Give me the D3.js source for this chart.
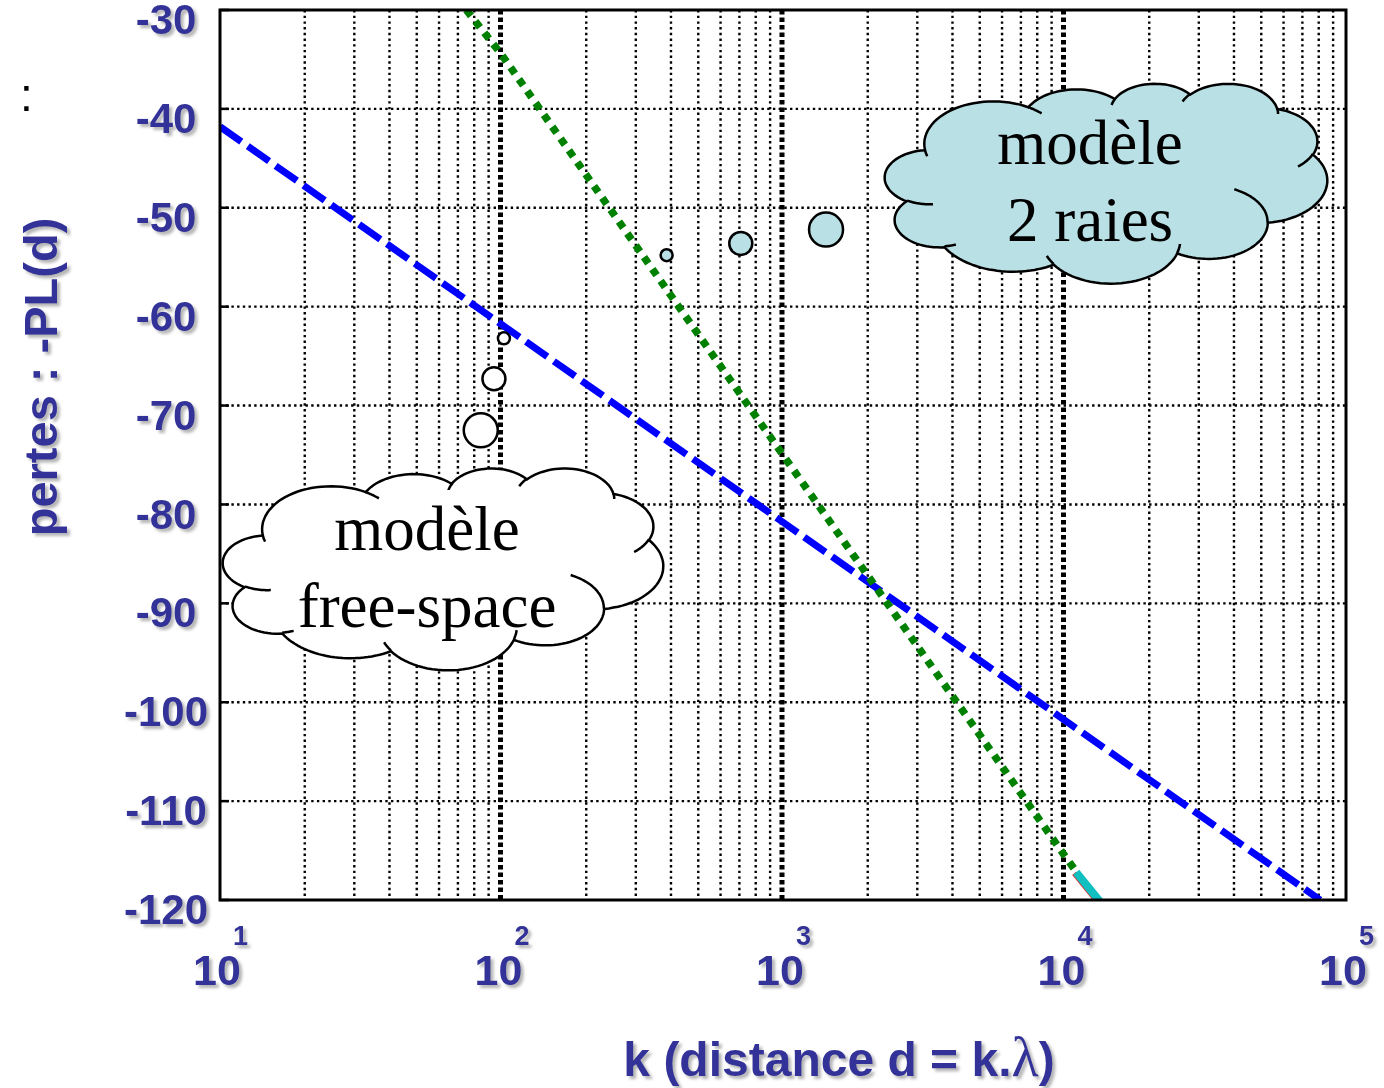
<!DOCTYPE html>
<html>
<head>
<meta charset="utf-8">
<script src="https://cdn.jsdelivr.net/npm/d3@7"></script>
<style>
  html, body { margin: 0; padding: 0; background: #fff; }
  svg { display: block; }
</style>
</head>
<body>
<div id="chart"></div>
<script>
// path loss vs distance, free-space model against the 2-ray model

// axis ticks
const xDecades = [10, 100, 1000, 10000, 100000];
const xExponents = ["1", "2", "3", "4", "5"];
const yTicks = [-30, -40, -50, -60, -70, -80, -90, -100, -110, -120];

// free-space model (blue dashed)  k, dB
const freeK = [10, 100, 1000, 10000, 81000];
const freeDb = [-41.8, -61.8, -81.8, -101.8, -120];

// 2-ray model (green dotted)
const twoRayK = [75, 100, 1000, 10000, 10800];
const twoRayDb = [-30, -34.5, -75, -115.5, -116.8];

// tail of the exact curves at the bottom edge
const tailK = [11000, 13400];
const tailDb = [-117.2, -120.2];

// thought-bubble trail circles
const bubbleFreeK = [84.4, 94, 102];
const bubbleFreeDb = [-72.5, -67.3, -63.2];
const bubbleRaysK = [386, 708, 1422];
const bubbleRaysDb = [-54.8, -53.6, -52.2];
const bubbleR = [17, 11.5, 6];
const bubbleRaysR = [6, 11.5, 17];

// clouds: box corners in data space and their text
const cloudK = [[2303, 85700], [10.25, 375]];
const cloudDb = [[-37.4, -57.6], [-76.3, -96.7]];
const cloudLines = [["modèle", "2 raies"], ["modèle", "free-space"]];
const cloudFill = ["#b9e0e4", "#ffffff"];

const W = 1384, H = 1088;
const blue = "#333399";

const svg = d3.select("#chart").append("svg")
    .attr("width", W).attr("height", H);

const defs = svg.append("defs");
const shadow = defs.append("filter").attr("id", "shadow")
    .attr("x", "-20%").attr("y", "-20%").attr("width", "140%").attr("height", "140%");
shadow.append("feDropShadow")
    .attr("dx", 3).attr("dy", 3).attr("stdDeviation", 1.6)
    .attr("flood-color", "#777").attr("flood-opacity", 0.55);

defs.append("clipPath").attr("id", "plotclip")
  .append("rect").attr("x", 220).attr("y", 10).attr("width", 1126).attr("height", 890);

const x = d3.scaleLog().domain([10, 1e5]).range([220, 1346]);
const y = d3.scaleLinear().domain([-120, -30]).range([900, 10]);

// grid
const grid = svg.append("g");
const minor = x.ticks().filter(v => xDecades.indexOf(v) < 0);
grid.selectAll(".vminor").data(minor).enter().append("line")
    .attr("x1", d => x(d)).attr("x2", d => x(d))
    .attr("y1", y(-30)).attr("y2", y(-120))
    .attr("stroke", "#000").attr("stroke-width", 2.4)
    .attr("stroke-dasharray", "2.4,3.3");

grid.selectAll(".hgrid").data(yTicks.slice(1, -1)).enter().append("line")
    .attr("x1", x(10)).attr("x2", x(1e5))
    .attr("y1", d => y(d)).attr("y2", d => y(d))
    .attr("stroke", "#000").attr("stroke-width", 2.4)
    .attr("stroke-dasharray", "2.4,3.3");

grid.selectAll(".vmajor").data(xDecades.slice(1, -1)).enter().append("line")
    .attr("x1", d => x(d) - 1).attr("x2", d => x(d) - 1)
    .attr("y1", y(-30)).attr("y2", y(-120))
    .attr("stroke", "#000").attr("stroke-width", 5)
    .attr("stroke-dasharray", "4.5,3");

// small inner ticks on the left axis
grid.selectAll(".ytick").data(yTicks).enter().append("line")
    .attr("x1", x(10)).attr("x2", x(10) + 9)
    .attr("y1", d => y(d)).attr("y2", d => y(d))
    .attr("stroke", "#000").attr("stroke-width", 2.5);

// curves
const line = d3.line().x(d => x(d[0])).y(d => y(d[1]));
const plot = svg.append("g").attr("clip-path", "url(#plotclip)");

plot.append("path")
    .datum(freeK.map((k, i) => [k, freeDb[i]]))
    .attr("d", line).attr("fill", "none")
    .attr("stroke", "#0000ff").attr("stroke-width", 7)
    .attr("stroke-dasharray", "26,8");

plot.append("path")
    .datum(twoRayK.map((k, i) => [k, twoRayDb[i]]))
    .attr("d", line).attr("fill", "none")
    .attr("stroke", "#008000").attr("stroke-width", 7.5)
    .attr("stroke-dasharray", "7.5,7");

const tail = tailK.map((k, i) => [k, tailDb[i]]);
plot.append("path").datum(tail).attr("d", line)
    .attr("transform", "translate(-2,1)")
    .attr("fill", "none").attr("stroke", "#e02020").attr("stroke-width", 5);
plot.append("path").datum(tail).attr("d", line)
    .attr("fill", "none").attr("stroke", "#10c0c0").attr("stroke-width", 8);

// bubble trails
svg.append("g").selectAll("circle").data(bubbleFreeK).enter().append("circle")
    .attr("cx", d => x(d)).attr("cy", (d, i) => y(bubbleFreeDb[i]))
    .attr("r", (d, i) => bubbleR[i])
    .attr("fill", "#fff").attr("stroke", "#000").attr("stroke-width", 2.5);

svg.append("g").selectAll("circle").data(bubbleRaysK).enter().append("circle")
    .attr("cx", d => x(d)).attr("cy", (d, i) => y(bubbleRaysDb[i]))
    .attr("r", (d, i) => bubbleRaysR[i])
    .attr("fill", cloudFill[0]).attr("stroke", "#000").attr("stroke-width", 2.5);

// cloud shape (office preset geometry, 43200 units box)
const cloudStart = [3900, 14370];
const cloudArcs = [
  [6753, 9190, -11429249, 7426832], [5333, 7267, -8646143, 5396714],
  [4365, 5945, -8748475, 5983381], [4857, 6595, -7859164, 7034504],
  [5333, 7273, -4722533, 6541615], [6775, 9220, -2776035, 7816140],
  [5785, 7867, 37501, 6842000], [6752, 9215, 1347096, 6910353],
  [7720, 10543, 3974558, 4542661], [4360, 5918, -16496525, 8804134],
  [4345, 5945, -14809710, 9151131]
];
const cloudInner = [
  [4693, 26177, 4345, 5945, 5204520, 1585770],
  [6928, 34899, 4360, 5918, 4416628, 686848],
  [16478, 39090, 6752, 9215, 8257449, 844866],
  [28827, 34751, 6752, 9215, 387196, 959901],
  [34129, 22954, 5785, 7867, -4217541, 4255042],
  [41798, 15354, 5333, 7273, 1819082, 1665090],
  [38324, 5426, 4857, 6595, -824660, 891534],
  [29078, 3952, 4857, 6595, -8950887, 1091722],
  [22141, 4720, 4365, 5945, -9809656, 1061181],
  [14000, 5192, 6753, 9190, -4002417, 739161],
  [4127, 15789, 6753, 9190, 9459261, 711490]
];

function arcTo(pt, wR, hR, st, sw, out) {
  const a0 = st / 60000 * Math.PI / 180, s = sw / 60000 * Math.PI / 180;
  const t0 = Math.atan2(wR * Math.sin(a0), hR * Math.cos(a0));
  const a1 = a0 + s;
  let t1 = Math.atan2(wR * Math.sin(a1), hR * Math.cos(a1));
  while (t1 - t0 - s > Math.PI) t1 -= 2 * Math.PI;
  while (t1 - t0 - s < -Math.PI) t1 += 2 * Math.PI;
  const cx = pt[0] - wR * Math.cos(t0), cy = pt[1] - hR * Math.sin(t0);
  for (let i = 1; i <= 30; i++) {
    const t = t0 + (t1 - t0) * i / 30;
    out.push([cx + wR * Math.cos(t), cy + hR * Math.sin(t)]);
  }
  return out[out.length - 1];
}

function cloudPaths(x0, y0, w, h) {
  const sx = v => x0 + v * w / 43200, sy = v => y0 + v * h / 43200;
  const toD = pts => "M" + pts.map(p => sx(p[0]).toFixed(1) + "," + sy(p[1]).toFixed(1)).join("L");
  let pts = [cloudStart], cur = cloudStart;
  cloudArcs.forEach(a => { cur = arcTo(cur, a[0], a[1], a[2], a[3], pts); });
  const outline = toD(pts) + "Z";
  const inner = cloudInner.map(a => {
    const p = [[a[0], a[1]]];
    arcTo(p[0], a[2], a[3], a[4], a[5], p);
    return toD(p);
  }).join("");
  return [outline, inner];
}

cloudK.forEach((ks, i) => {
  const x0 = x(ks[0]), x1 = x(ks[1]);
  const y0 = y(cloudDb[i][0]), y1 = y(cloudDb[i][1]);
  const p = cloudPaths(x0, y0, x1 - x0, y1 - y0);
  const g = svg.append("g");
  g.append("path").attr("d", p[0])
      .attr("fill", cloudFill[i]).attr("stroke", "#000").attr("stroke-width", 2.5);
  g.append("path").attr("d", p[1])
      .attr("fill", "none").attr("stroke", "#000").attr("stroke-width", 2.5);
  const cx = (x0 + x1) / 2 - 16, cy = (y0 + y1) / 2;
  g.selectAll("text").data(cloudLines[i]).enter().append("text")
      .attr("x", cx).attr("y", (d, j) => cy - 19 + j * 77)
      .attr("text-anchor", "middle")
      .attr("font-family", "'Liberation Serif', 'Times New Roman', serif")
      .attr("font-size", 63).attr("fill", "#000")
      .text(d => d);
});

// plot frame
svg.append("rect")
    .attr("x", x(10)).attr("y", y(-30))
    .attr("width", x(1e5) - x(10)).attr("height", y(-120) - y(-30))
    .attr("fill", "none").attr("stroke", "#000").attr("stroke-width", 3);

// tick labels
const labels = svg.append("g").attr("filter", "url(#shadow)")
    .attr("font-family", "'Liberation Sans', Arial, sans-serif")
    .attr("font-weight", "bold").attr("fill", blue);

labels.selectAll(".ylab").data(yTicks).enter().append("text")
    .attr("x", 166).attr("y", d => y(d) + 13)
    .attr("text-anchor", "middle").attr("dominant-baseline", "middle")
    .attr("font-size", 42)
    .text(d => d);

labels.selectAll(".xlab").data(xDecades).enter().append("text")
    .attr("x", d => x(d) - 3).attr("y", 985)
    .attr("text-anchor", "middle").attr("font-size", 43)
    .text("10");

labels.selectAll(".xexp").data(xDecades).enter().append("text")
    .attr("x", d => x(d) + 13).attr("y", 945)
    .attr("font-size", 27)
    .text((d, i) => xExponents[i]);

// axis titles
const xt = labels.append("text")
    .attr("x", 839).attr("y", 1076)
    .attr("text-anchor", "middle").attr("font-size", 48);
xt.append("tspan").text("k (distance d = k.");
xt.append("tspan").attr("font-family", "'Liberation Serif', 'Times New Roman', serif")
    .attr("font-weight", "normal").attr("font-size", 56).text("λ");
xt.append("tspan").text(")");

labels.append("text")
    .attr("transform", "translate(57,377) rotate(-90)")
    .attr("text-anchor", "middle").attr("font-size", 47)
    .text("pertes : -PL(d)");

// cut-off fragment at the top left of the slide
svg.append("text")
    .attr("x", 20).attr("y", 111)
    .attr("font-family", "'Liberation Sans', Arial, sans-serif")
    .attr("font-size", 46).attr("fill", "#000")
    .text(":");
</script>
</body>
</html>
